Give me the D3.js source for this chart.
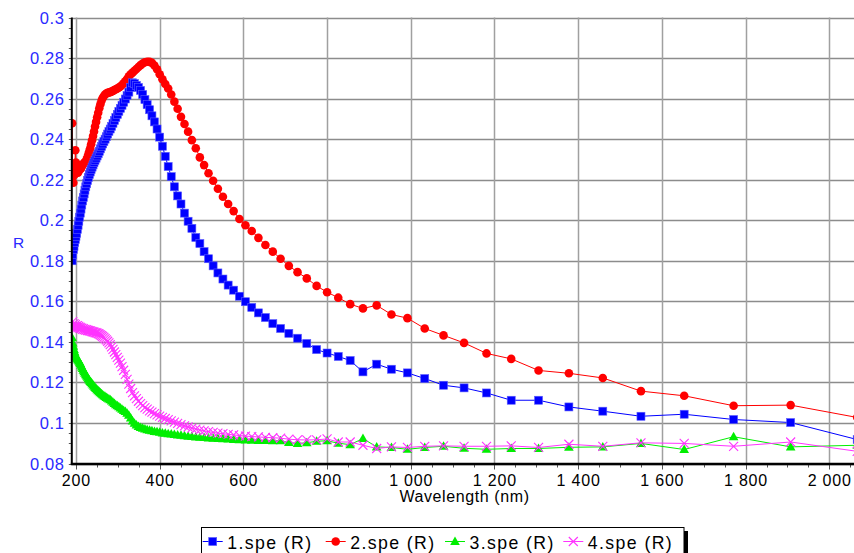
<!DOCTYPE html>
<html>
<head>
<meta charset="utf-8">
<script src="https://cdn.jsdelivr.net/npm/d3@7"></script>
<style>
  html, body { margin: 0; padding: 0; background: #fff; }
  svg { display: block; font-family: "Liberation Sans", Arial, sans-serif; }
</style>
</head>
<body>
<svg id="chart" width="854" height="553"></svg>
<script>
// Wavelength grid (nm) shared by the four spectra
const wavelengths = [
  190.8,192.2,193.8,195.3,196.8,198.4,200.0,201.6,203.3,205.0,
  206.7,208.4,210.2,212.0,213.8,215.7,217.5,219.5,221.4,223.4,
  225.5,227.5,229.6,231.8,234.0,236.2,238.5,240.8,243.1,245.5,
  248.0,250.5,253.1,255.7,258.3,261.1,263.8,266.7,269.6,272.5,
  275.6,278.7,281.8,285.1,288.4,291.8,295.2,298.8,302.4,306.2,
  310.0,313.9,317.9,322.1,326.3,330.7,335.1,339.7,344.4,349.3,
  354.3,359.4,364.7,370.1,375.8,381.5,387.5,393.7,400.0,406.6,
  413.3,420.3,427.6,435.1,442.9,450.9,459.3,467.9,476.9,486.3,
  496.0,506.1,516.7,527.7,539.1,551.1,563.6,576.7,590.5,604.9,
  620.0,635.9,652.6,670.3,688.9,708.6,729.4,751.5,775.0,800.0,
  826.7,855.2,885.7,918.5,953.8,992.0,1033.3,1078.3,1127.3,1181.0,
  1240.0,1305.3,1377.8,1458.8,1550.0,1653.3,1771.4,1907.7,2066.7
];

// Reflectance R of each spectrum
const spe1 = [
  0.1800,0.1830,0.1855,0.1870,0.1890,0.1905,0.1920,0.1935,0.1955,0.1975,
  0.1995,0.2015,0.2035,0.2055,0.2075,0.2095,0.2112,0.2130,0.2148,0.2165,
  0.2180,0.2195,0.2210,0.2225,0.2238,0.2250,0.2262,0.2273,0.2284,0.2295,
  0.2306,0.2317,0.2328,0.2340,0.2352,0.2364,0.2376,0.2388,0.2400,0.2412,
  0.2425,0.2438,0.2450,0.2463,0.2478,0.2492,0.2507,0.2522,0.2537,0.2552,
  0.2567,0.2582,0.2598,0.2615,0.2632,0.2655,0.2678,0.2674,0.2665,0.2655,
  0.2640,0.2620,0.2595,0.2570,0.2545,0.2515,0.2485,0.2450,0.2410,0.2365,
  0.2315,0.2265,0.2215,0.2165,0.2120,0.2080,0.2035,0.1995,0.1960,0.1915,
  0.1885,0.1845,0.1810,0.1775,0.1740,0.1710,0.1680,0.1655,0.1625,0.1598,
  0.1570,0.1543,0.1520,0.1490,0.1466,0.1442,0.1418,0.1392,0.1362,0.1345,
  0.1328,0.1308,0.1252,0.1290,0.1265,0.1247,0.1219,0.1186,0.1173,0.1148,
  0.1112,0.1112,0.1079,0.1058,0.1033,0.1043,0.1017,0.1002,0.0918
];
const spe2 = [
  0.2478,0.2215,0.2185,0.2265,0.2225,0.2345,0.2285,0.2240,0.2262,0.2235,
  0.2255,0.2248,0.2262,0.2255,0.2268,0.2272,0.2278,0.2282,0.2286,0.2290,
  0.2300,0.2310,0.2325,0.2340,0.2355,0.2375,0.2395,0.2415,0.2438,0.2462,
  0.2485,0.2508,0.2530,0.2552,0.2572,0.2590,0.2603,0.2613,0.2620,0.2625,
  0.2628,0.2630,0.2632,0.2635,0.2638,0.2642,0.2646,0.2650,0.2655,0.2660,
  0.2667,0.2675,0.2685,0.2697,0.2710,0.2720,0.2728,0.2737,0.2746,0.2756,
  0.2765,0.2773,0.2779,0.2782,0.2781,0.2776,0.2763,0.2745,0.2720,0.2695,
  0.2672,0.2650,0.2620,0.2585,0.2550,0.2510,0.2475,0.2437,0.2395,0.2355,
  0.2310,0.2272,0.2232,0.2195,0.2155,0.2116,0.2080,0.2045,0.2006,0.1975,
  0.1947,0.1913,0.1878,0.1845,0.1810,0.1775,0.1744,0.1713,0.1676,0.1645,
  0.1618,0.1586,0.1565,0.1580,0.1535,0.1517,0.1466,0.1432,0.1395,0.1343,
  0.1316,0.1259,0.1245,0.1222,0.1157,0.1134,0.1085,0.1088,0.1027
];
const spe3 = [
  0.1420,0.1395,0.1378,0.1362,0.1350,0.1338,0.1328,0.1320,0.1315,0.1310,
  0.1305,0.1300,0.1293,0.1285,0.1276,0.1268,0.1260,0.1252,0.1245,0.1238,
  0.1231,0.1225,0.1218,0.1211,0.1205,0.1199,0.1193,0.1187,0.1181,0.1175,
  0.1170,0.1164,0.1159,0.1154,0.1149,0.1144,0.1139,0.1134,0.1130,0.1126,
  0.1122,0.1118,0.1114,0.1108,0.1102,0.1096,0.1090,0.1085,0.1080,0.1074,
  0.1068,0.1062,0.1056,0.1048,0.1038,0.1025,0.1010,0.0998,0.0990,0.0983,
  0.0978,0.0974,0.0970,0.0967,0.0964,0.0961,0.0958,0.0956,0.0954,0.0951,
  0.0949,0.0947,0.0945,0.0943,0.0941,0.0939,0.0937,0.0935,0.0933,0.0931,
  0.0929,0.0928,0.0926,0.0925,0.0923,0.0922,0.0921,0.0919,0.0917,0.0916,
  0.0915,0.0914,0.0913,0.0912,0.0912,0.0903,0.0899,0.0902,0.0910,0.0912,
  0.0900,0.0893,0.0923,0.0882,0.0879,0.0870,0.0879,0.0885,0.0875,0.0870,
  0.0874,0.0874,0.0880,0.0882,0.0899,0.0869,0.0932,0.0882,0.0890
];
const spe4 = [
  0.1480,0.1500,0.1470,0.1490,0.1475,0.1485,0.1478,0.1472,0.1480,0.1470,
  0.1476,0.1468,0.1472,0.1465,0.1468,0.1462,0.1465,0.1460,0.1462,0.1458,
  0.1460,0.1456,0.1457,0.1454,0.1454,0.1452,0.1451,0.1449,0.1448,0.1446,
  0.1445,0.1443,0.1441,0.1438,0.1435,0.1431,0.1427,0.1422,0.1416,0.1410,
  0.1403,0.1395,0.1386,0.1375,0.1363,0.1350,0.1337,0.1323,0.1310,0.1295,
  0.1278,0.1260,0.1240,0.1215,0.1192,0.1170,0.1150,0.1134,0.1120,0.1107,
  0.1095,0.1085,0.1076,0.1068,0.1060,0.1053,0.1046,0.1040,0.1034,0.1028,
  0.1022,0.1016,0.1010,0.1004,0.0998,0.0992,0.0986,0.0980,0.0975,0.0970,
  0.0965,0.0961,0.0957,0.0953,0.0950,0.0947,0.0944,0.0941,0.0938,0.0935,
  0.0933,0.0931,0.0929,0.0927,0.0925,0.0920,0.0917,0.0916,0.0917,0.0921,
  0.0906,0.0906,0.0890,0.0874,0.0882,0.0879,0.0885,0.0887,0.0885,0.0885,
  0.0887,0.0879,0.0895,0.0885,0.0902,0.0899,0.0885,0.0906,0.0860
];

const seriesNames = ["1.spe (R)", "2.spe (R)", "3.spe (R)", "4.spe (R)"];

// Axis ticks
const xTickValues = [200, 400, 600, 800, 1000, 1200, 1400, 1600, 1800, 2000];
const xTickLabels = ["200", "400", "600", "800", "1 000", "1 200", "1 400", "1 600", "1 800", "2 000"];
const yTickValues = [0.08, 0.1, 0.12, 0.14, 0.16, 0.18, 0.2, 0.22, 0.24, 0.26, 0.28, 0.3];
const yTickLabels = ["0.08", "0.1", "0.12", "0.14", "0.16", "0.18", "0.2", "0.22", "0.24", "0.26", "0.28", "0.3"];

const svg = d3.select("#chart");
const W = 854, H = 553;
svg.append("rect").attr("width", W).attr("height", H).attr("fill", "#fff");

const plot = { left: 71.8, top: 17.5, bottom: 463.5 };
const x = d3.scaleLinear().domain([190, 2100]).range([plot.left, plot.left + 1910 * 0.4185]);
const y = d3.scaleLinear().domain([0.08, 0.3]).range([plot.bottom, plot.top]);

svg.append("clipPath").attr("id", "plotclip")
  .append("rect").attr("x", plot.left).attr("y", plot.top - 6)
  .attr("width", W - plot.left).attr("height", plot.bottom - plot.top + 6);

// Grid
const grid = svg.append("g");
grid.selectAll("line.h").data(yTickValues).join("line")
  .attr("x1", plot.left).attr("x2", W)
  .attr("y1", d => Math.round(y(d)) + 0.5).attr("y2", d => Math.round(y(d)) + 0.5)
  .attr("stroke", "#8c8c8c").attr("stroke-width", 1.3);
grid.selectAll("line.v").data(xTickValues).join("line")
  .attr("y1", plot.top).attr("y2", plot.bottom)
  .attr("x1", d => Math.round(x(d)) + 0.5).attr("x2", d => Math.round(x(d)) + 0.5)
  .attr("stroke", "#a0a0a0").attr("stroke-width", 1.5);

// Series
const series = [
  { name: seriesNames[0], values: spe1, color: "#0000ff", shape: "square" },
  { name: seriesNames[1], values: spe2, color: "#ff0000", shape: "circle" },
  { name: seriesNames[2], values: spe3, color: "#00ee00", shape: "triangle" },
  { name: seriesNames[3], values: spe4, color: "#ff33ff", shape: "cross" }
];

function drawMarker(g, shape, color, cx, cy) {
  if (shape === "square") {
    g.append("rect").attr("x", cx - 4).attr("y", cy - 4).attr("width", 8).attr("height", 8)
      .attr("fill", color).attr("stroke", "#5a5aff").attr("stroke-width", 0.6);
  } else if (shape === "circle") {
    g.append("circle").attr("cx", cx).attr("cy", cy).attr("r", 4.3).attr("fill", color);
  } else if (shape === "triangle") {
    g.append("path").attr("d", `M${cx},${cy - 5}L${cx + 4.8},${cy + 3.5}L${cx - 4.8},${cy + 3.5}Z`)
      .attr("fill", color);
  } else {
    g.append("path").attr("d", `M${cx - 4.5},${cy - 4.5}L${cx + 4.5},${cy + 4.5}M${cx + 4.5},${cy - 4.5}L${cx - 4.5},${cy + 4.5}`)
      .attr("stroke", color).attr("stroke-width", 1.1).attr("fill", "none");
  }
}

const dataLayer = svg.append("g").attr("clip-path", "url(#plotclip)");
const line = d3.line().x(d => x(d[0])).y(d => y(d[1]));
const drawOrder = [1, 0, 2, 3];
drawOrder.forEach(i => {
  const s = series[i];
  const pts = wavelengths.map((w, k) => [w, s.values[k]]);
  const g = dataLayer.append("g");
  g.append("path").datum(pts).attr("d", line)
    .attr("fill", "none").attr("stroke", s.color).attr("stroke-width", 1);
  pts.forEach(p => drawMarker(g, s.shape, s.color, x(p[0]), y(p[1])));
});

// Axes
const axisColor = "#000";
// y minor ticks
const yMinor = d3.range(0.08, 0.3001, 0.005);
svg.selectAll("line.ym").data(yMinor).join("line")
  .attr("x1", plot.left - 3).attr("x2", plot.left)
  .attr("y1", d => Math.round(y(d)) + 0.5).attr("y2", d => Math.round(y(d)) + 0.5)
  .attr("stroke", "#555").attr("stroke-width", 1);
// x minor ticks
const xMinor = d3.range(200, 2100, 50);
svg.selectAll("line.xm").data(xMinor).join("line")
  .attr("y1", plot.bottom).attr("y2", d => plot.bottom + (d % 200 === 0 ? 6 : 4))
  .attr("x1", d => Math.round(x(d)) + 0.5).attr("x2", d => Math.round(x(d)) + 0.5)
  .attr("stroke", "#555").attr("stroke-width", 1);

svg.append("line").attr("x1", plot.left).attr("x2", plot.left)
  .attr("y1", plot.top).attr("y2", plot.bottom + 1)
  .attr("stroke", axisColor).attr("stroke-width", 2);
svg.append("line").attr("x1", plot.left - 1).attr("x2", W)
  .attr("y1", plot.bottom + 0.5).attr("y2", plot.bottom + 0.5)
  .attr("stroke", axisColor).attr("stroke-width", 2.5);

// Tick labels
svg.selectAll("text.yl").data(yTickValues).join("text")
  .attr("x", 64.6).attr("y", d => y(d) + 6)
  .attr("text-anchor", "end").attr("font-size", 16.5).attr("letter-spacing", 0.6).attr("fill", "#2a2aff")
  .text((d, i) => yTickLabels[i]);
svg.selectAll("text.xl").data(xTickValues).join("text")
  .attr("x", d => x(d) + 0.4).attr("y", 486)
  .attr("text-anchor", "middle").attr("font-size", 16).attr("letter-spacing", 0.8).attr("fill", "#000")
  .text((d, i) => xTickLabels[i]);

// Axis titles
svg.append("text").attr("x", 18.5).attr("y", 248).attr("text-anchor", "middle")
  .attr("font-size", 15.5).attr("fill", "#2a2aff").text("R");
svg.append("text").attr("x", 464.5).attr("y", 502).attr("text-anchor", "middle")
  .attr("font-size", 16).attr("letter-spacing", 0.6).attr("fill", "#000").text("Wavelength (nm)");

// Legend
const legend = svg.append("g");
legend.append("rect").attr("x", 684).attr("y", 531).attr("width", 4).attr("height", 30).attr("fill", "#000");
legend.append("rect").attr("x", 201.5).attr("y", 527.5).attr("width", 482.5).attr("height", 40)
  .attr("fill", "#fff").attr("stroke", "#000").attr("stroke-width", 1);
const legendX = [202.7, 325.7, 445, 563.3];
series.forEach((s, i) => {
  const lx = legendX[i];
  const ly = 541.5;
  legend.append("line").attr("x1", lx).attr("x2", lx + 20).attr("y1", ly).attr("y2", ly)
    .attr("stroke", s.color).attr("stroke-width", 1);
  drawMarker(legend, s.shape, s.color, lx + 10, ly);
  legend.append("text").attr("x", lx + 24.5).attr("y", 548.5)
    .attr("font-size", 17.7).attr("letter-spacing", 1.4).attr("fill", "#000").text(s.name);
});
</script>
</body>
</html>
